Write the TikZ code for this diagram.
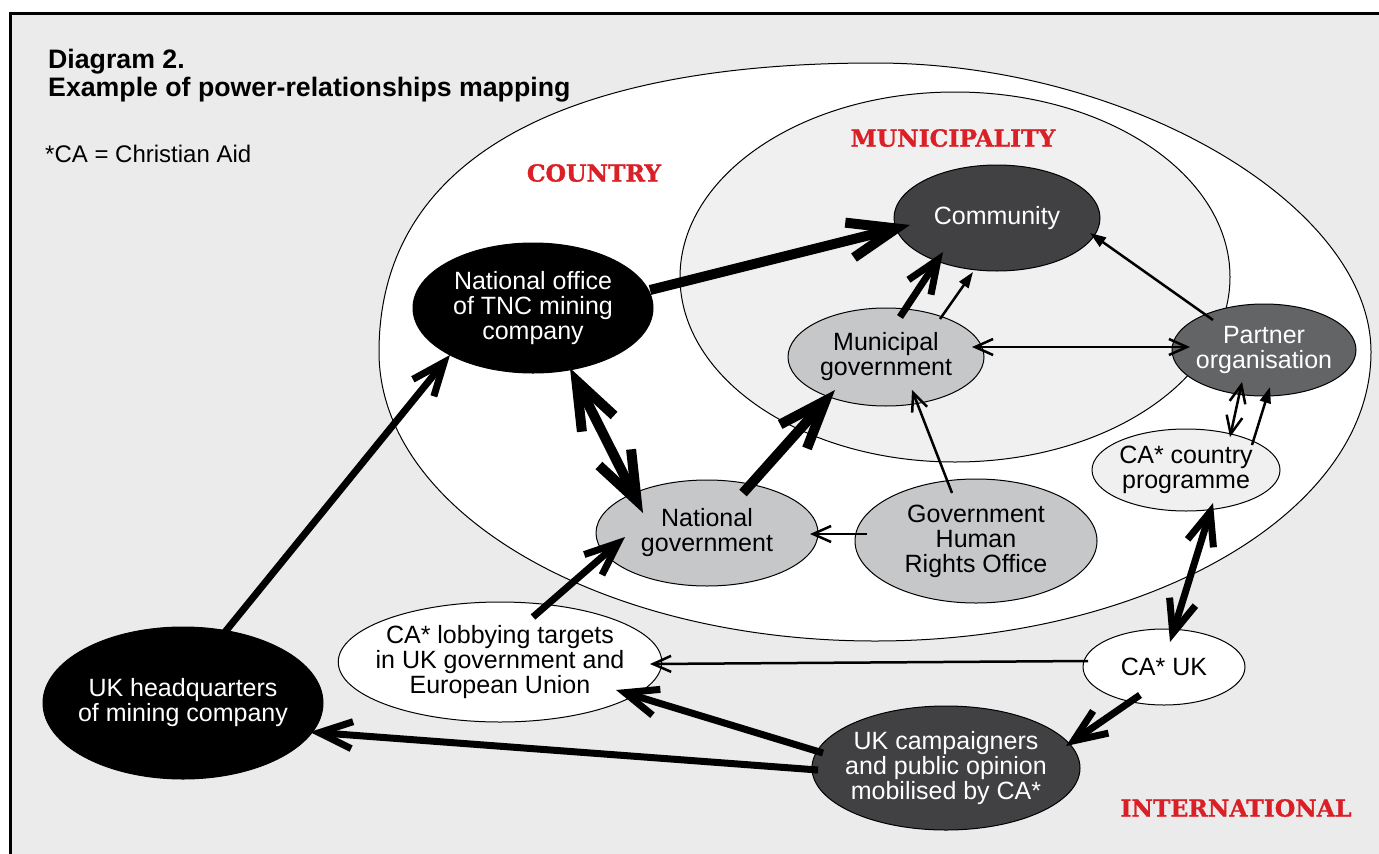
\documentclass[tikz,border=0pt]{standalone}
\usepackage{fontspec}
\setmainfont{Liberation Sans}
\newfontfamily\zoneface[BoldFeatures={FakeBold=1.2}]{DejaVu Serif}
\usetikzlibrary{shapes.geometric,arrows.meta}

\definecolor{panelgrey}{HTML}{EBEBEB}
\definecolor{palegrey}{HTML}{F0F0F0}
\definecolor{midgrey}{HTML}{C6C7C9}
\definecolor{partgrey}{HTML}{636466}
\definecolor{darkgrey}{HTML}{414042}
\definecolor{zonered}{HTML}{DA1F26}

\tikzset{
  actor/.style={ellipse,draw=black,line width=1pt,inner xsep=-10pt,inner ysep=0pt,
    outer sep=0pt,align=center,font=\fontsize{25}{25}\selectfont},
  zone/.style={font=\zoneface\bfseries\fontsize{23.5}{23.5}\selectfont,text=zonered},
  heavy/.style={line width=10pt},
  medium/.style={line width=7pt},
  slim/.style={line width=2.5pt},
  widebarb/.tip={Straight Barb[length=48pt,width=36pt,sharp]},
  midbarb/.tip={Straight Barb[length=33pt,width=27pt,sharp]},
  smallbarb/.tip={Straight Barb[length=18pt,width=16pt,sharp]},
  smallhead/.tip={Triangle[length=16pt,width=11pt]}
}

\begin{document}
\begin{tikzpicture}[x=1pt,y=-1pt]
  \useasboundingbox (0,0) rectangle (1379,854);
  \clip (0,0) rectangle (1379,854);

  % Grey panel with its black frame (open to the right and below).
  \fill[panelgrey] (10,13) rectangle (1400,880);
  \draw[line width=3pt] (1400,13) -- (10,13) -- (10,880);

  % The country area: a slightly fuller upper-left quarter than a true ellipse.
  \draw[fill=white,line width=1pt] (379,352)
    .. controls (379,164) and (553,63) .. (875,63)
    .. controls (1128,63) and (1371,205) .. (1371,352)
    .. controls (1371,512) and (1149,641) .. (875,641)
    .. controls (601,641) and (379,512) .. (379,352) -- cycle;
  % The municipality inside it.
  \draw[fill=palegrey,line width=1pt] (955,277) ellipse[x radius=275,y radius=185];

  % Heading and key.
  \node[anchor=north west,inner sep=0pt,align=left,font=\bfseries\fontsize{26.7}{28}\selectfont]
    (title) at (48,49) {Diagram 2.\\Example of power-relationships mapping};
  \node[anchor=base west,inner sep=0pt,font=\fontsize{24}{24}\selectfont]
    (key) at (45,162) {*CA = Christian Aid};

  % Area names.
  \node[zone] (country) at (594,173) {COUNTRY};
  \node[zone] (municipality) at (953,138) {MUNICIPALITY};
  \node[zone] (international) at (1236,808) {INTERNATIONAL};

  % Actors.
  \node[actor,fill=darkgrey,text=white,minimum width=206pt,minimum height=106pt]
    (comm) at (997,218) {Community};
  \node[actor,fill=black,text=white,minimum width=240pt,minimum height=130pt]
    (tnc) at (533,308) {National office\\of TNC mining\\company};
  \node[actor,fill=midgrey,minimum width=196pt,minimum height=98pt]
    (muni) at (886,357) {Municipal\\government};
  \node[actor,fill=partgrey,text=white,minimum width=184pt,minimum height=92pt]
    (partner) at (1264,350) {Partner\\organisation};
  \node[actor,fill=palegrey,minimum width=188pt,minimum height=82pt]
    (cacountry) at (1186,470) {CA* country\\programme};
  \node[actor,fill=midgrey,minimum width=222pt,minimum height=106pt]
    (natgov) at (707,533) {National\\government};
  \node[actor,fill=midgrey,minimum width=242pt,minimum height=124pt]
    (ghro) at (976,541) {Government\\Human\\Rights Office};
  \node[actor,fill=white,minimum width=306pt,minimum height=120pt]
    (lobby) at (500,662) {CA* lobbying targets\\in UK government and\\European Union};
  \node[actor,fill=white,minimum width=162pt,minimum height=76pt]
    (cauk) at (1164,667) {CA* UK};
  \node[actor,fill=darkgrey,text=white,minimum width=268pt,minimum height=124pt]
    (campaign) at (946,768) {UK campaigners\\and public opinion\\mobilised by CA*};
  \node[actor,fill=black,text=white,minimum width=280pt,minimum height=152pt]
    (ukhq) at (183,703) {UK headquarters\\of mining company};

  % Strongest influence.
  \draw[heavy,-{widebarb}] ([shift={(117,-18)}]tnc.center) -- ([shift={(-87,7)}]comm.center);
  \draw[heavy,{widebarb}-{widebarb}] ([shift={(37,60)}]tnc.center) -- ([shift={(-64,-20)}]natgov.center);
  \draw[heavy,-{widebarb}] ([shift={(36,-40)}]natgov.center) -- ([shift={(-51,33)}]muni.center);

  % Strong influence.
  \draw[medium,-{midbarb}] ([shift={(14,-40)}]muni.center) -- ([shift={(-54,34)}]comm.center);
  \draw[medium,{midbarb}-{midbarb}] ([shift={(27,33)}]cacountry.center) -- ([shift={(6,-25)}]cauk.center);
  \draw[medium,-{midbarb}] ([shift={(33,-45)}]lobby.center) -- ([shift={(-82,4)}]natgov.center);
  \draw[medium,-{midbarb}] ([shift={(42,-71)}]ukhq.center) -- ([shift={(-83,47)}]tnc.center);
  \draw[medium,-{midbarb}] ([shift={(-24,28)}]cauk.center) -- ([shift={(120,-22)}]campaign.center);
  \draw[medium,-{midbarb}] ([shift={(-123,-15)}]campaign.center) -- ([shift={(116,28)}]lobby.center);
  \draw[medium,-{midbarb}] ([shift={(-128,2)}]campaign.center) -- ([shift={(127,29)}]ukhq.center);

  % Weaker links.
  \draw[slim,-{smallhead}] ([shift={(54,-38)}]muni.center) -- ([shift={(-24,54)}]comm.center);
  \draw[slim,-{smallhead}] ([shift={(-51,-30)}]partner.center) -- ([shift={(93,15)}]comm.center);
  \draw[slim,{smallbarb}-{smallbarb}] ([shift={(86,-10)}]muni.center) -- ([shift={(-74,-3)}]partner.center);
  \draw[slim,{smallbarb}-{smallbarb}] ([shift={(-22,32)}]partner.center) -- ([shift={(44,-33)}]cacountry.center);
  \draw[slim,-{smallhead}] ([shift={(66,-25)}]cacountry.center) -- ([shift={(6,37)}]partner.center);
  \draw[slim,-{smallbarb}] ([shift={(-24,-48)}]ghro.center) -- ([shift={(26,33)}]muni.center);
  \draw[slim,-{smallbarb}] ([shift={(-109,-7)}]ghro.center) -- ([shift={(103,1)}]natgov.center);
  \draw[slim,-{smallbarb}] ([shift={(-76,-6)}]cauk.center) -- ([shift={(150,2)}]lobby.center);
\end{tikzpicture}
\end{document}
